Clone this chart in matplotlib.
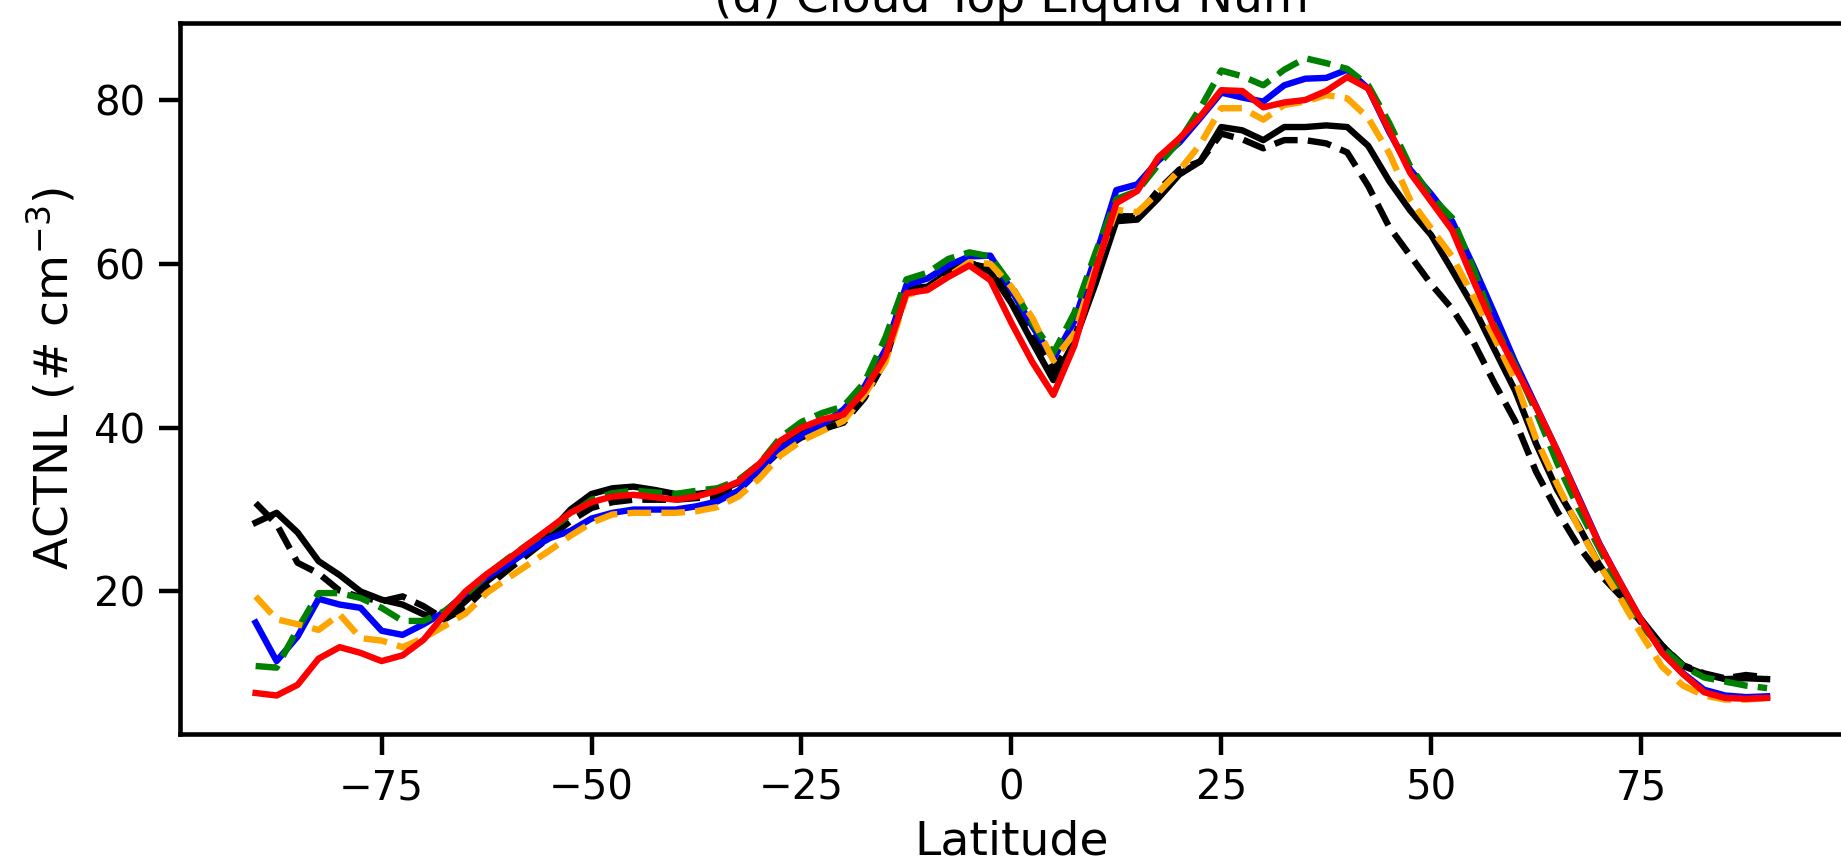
import numpy as np
import matplotlib
matplotlib.use("Agg")
import matplotlib.pyplot as plt

# latitude grid (deg)
lat = np.arange(-90, 90.1, 2.5)

# ACTNL (# cm^-3)
black_solid = [28.4, 29.6, 27.2, 23.7, 22.0, 20.0, 19.0, 18.4, 17.2, 16.6, 18.8, 21.2, 23.2,
               25.2, 27.2, 30.0, 31.9, 32.6, 32.8, 32.4, 31.9, 31.9, 32.2, 33.3, 35.3, 38.0,
               39.6, 40.6, 41.4, 44.2, 49.0, 57.0, 57.2, 59.0, 60.2, 59.0, 55.2, 50.4, 45.8,
               50.5, 57.5, 65.2, 65.4, 68.0, 70.9, 72.5, 76.7, 76.3, 75.1, 76.7, 76.7, 76.9,
               76.7, 74.4, 70.1, 66.5, 63.5, 59.2, 54.8, 49.6, 44.5, 38.0, 32.4, 28.1, 23.3,
               19.6, 16.6, 13.4, 10.9, 9.9, 9.3, 9.4, 9.3]
black_dashed = [30.8, 28.2, 23.5, 22.2, 20.1, 19.3, 18.8, 19.4, 18.2, 16.6, 18.0, 20.5, 22.6,
                24.6, 26.6, 28.6, 30.2, 30.9, 31.2, 31.2, 31.2, 31.4, 31.6, 32.6, 34.8, 37.2,
                38.8, 39.8, 40.6, 43.6, 48.2, 56.6, 57.0, 58.8, 60.0, 59.5, 56.0, 51.5, 47.0,
                51.0, 58.0, 65.8, 65.8, 69.0, 71.5, 72.5, 75.9, 75.2, 74.1, 75.1, 75.1, 74.7,
                73.6, 69.5, 64.5, 61.0, 57.5, 54.5, 50.5, 45.5, 40.8, 34.6, 29.8, 25.6, 22.2,
                19.5, 16.2, 13.4, 11.0, 10.0, 9.4, 9.8, 9.5]
blue_solid = [16.2, 11.5, 14.5, 19.1, 18.4, 18.0, 15.2, 14.7, 16.0, 17.5, 19.8, 21.7, 23.3,
              25.0, 26.5, 27.4, 28.9, 29.6, 30.0, 30.0, 30.0, 30.4, 31.0, 32.3, 34.8, 37.4,
              39.0, 40.4, 42.2, 45.0, 49.5, 57.4, 58.2, 59.8, 60.9, 61.0, 56.8, 52.4, 48.4,
              53.0, 60.8, 69.0, 69.7, 72.6, 74.8, 77.8, 80.9, 80.3, 79.8, 81.8, 82.6, 82.7,
              83.7, 81.4, 76.1, 71.5, 68.5, 65.2, 59.8, 54.0, 48.0, 42.6, 37.2, 31.6, 25.9,
              21.1, 16.5, 12.6, 10.0, 8.0, 7.3, 7.1, 7.2]
green_dashed = [10.9, 10.7, 15.4, 19.8, 19.8, 19.2, 18.0, 16.4, 16.4, 17.6, 19.6, 22.0, 24.0,
                25.8, 27.5, 29.4, 31.2, 32.0, 32.3, 32.1, 31.9, 32.3, 32.6, 33.6, 35.6, 38.8,
                40.7, 41.8, 42.6, 45.5, 51.0, 58.1, 58.9, 60.6, 61.4, 60.9, 57.4, 52.8, 49.1,
                54.0, 61.3, 67.9, 68.9, 72.1, 75.0, 79.0, 83.6, 82.9, 81.8, 83.7, 85.1, 84.5,
                83.8, 81.8, 77.2, 71.9, 68.2, 65.6, 59.5, 52.5, 47.6, 41.9, 35.7, 30.2, 25.3,
                20.3, 15.8, 13.1, 10.9, 9.5, 9.0, 8.5, 8.2]
orange_dashed = [19.4, 16.6, 16.0, 15.3, 17.2, 14.3, 14.0, 13.2, 14.3, 15.8, 17.3, 19.8, 21.6,
                 23.3, 25.0, 26.8, 28.4, 29.4, 29.6, 29.6, 29.6, 29.8, 30.3, 31.6, 33.8, 36.6,
                 38.4, 39.6, 40.8, 44.0, 48.0, 56.2, 56.8, 58.5, 60.2, 60.0, 57.2, 53.4, 48.2,
                 51.5, 59.5, 66.6, 66.3, 68.7, 71.4, 74.6, 79.0, 79.0, 77.6, 79.4, 79.8, 80.6,
                 80.2, 77.8, 73.5, 67.8, 64.3, 60.9, 56.0, 51.0, 45.8, 38.6, 33.1, 27.9, 23.3,
                 19.2, 14.8, 10.8, 8.5, 7.3, 6.8, 6.8, 7.0]
red_solid = [7.6, 7.3, 8.6, 11.8, 13.2, 12.5, 11.5, 12.2, 14.1, 17.2, 20.0, 22.1, 23.9,
             25.8, 27.7, 29.6, 30.9, 31.6, 31.8, 31.5, 31.2, 31.6, 32.3, 33.4, 35.6, 38.4,
             40.0, 41.0, 41.6, 44.5, 48.7, 56.4, 56.8, 58.4, 59.8, 58.0, 52.8, 48.0, 44.0,
             50.0, 59.0, 67.4, 68.9, 73.0, 75.3, 78.0, 81.2, 81.1, 79.1, 79.7, 80.0, 81.1,
             82.8, 81.4, 76.3, 71.1, 67.6, 64.1, 58.0, 52.2, 47.3, 42.5, 37.2, 31.4, 25.8,
             21.1, 16.5, 12.5, 9.9, 7.7, 7.0, 6.9, 7.0]

plt.rcParams['font.family'] = 'DejaVu Sans'

fig = plt.figure(figsize=(18.41, 8.68), dpi=100)
ax = fig.add_axes([0.0978, 0.1544, 0.9031, 0.8191])

lw = 4.6
ax.plot(lat, black_solid, color='black', lw=lw)
ax.plot(lat, black_dashed, color='black', lw=lw, linestyle='--')
ax.plot(lat, blue_solid, color='blue', lw=lw)
ax.plot(lat, green_dashed, color='green', lw=lw, linestyle='--')
ax.plot(lat, orange_dashed, color='orange', lw=lw, linestyle='--')
ax.plot(lat, red_solid, color='red', lw=lw)

ax.set_xlim(-99, 99)
ax.set_ylim(2.6, 89.4)
ax.set_xticks([-75, -50, -25, 0, 25, 50, 75])
ax.set_yticks([20, 40, 60, 80])

ax.set_title('(d) Cloud Top Liquid Num', fontsize=34, pad=8)
ax.set_xlabel('Latitude', fontsize=34, labelpad=8)
ax.set_ylabel('ACTNL (# cm$^{-3}$)', fontsize=34, labelpad=12)
ax.tick_params(labelsize=29, length=15, width=3.2, pad=10)
for s in ax.spines.values():
    s.set_linewidth(3.3)

fig.savefig('out.png', dpi=100)
